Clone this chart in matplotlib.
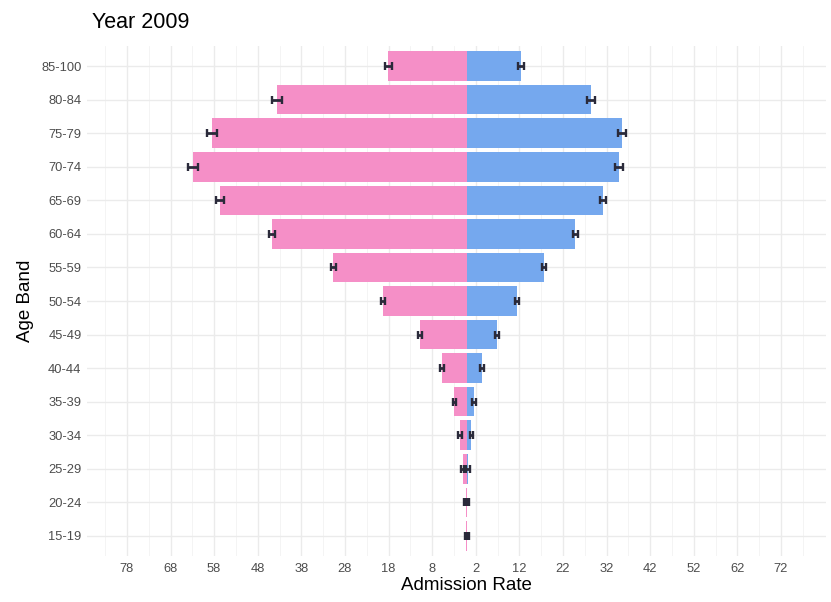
import matplotlib
matplotlib.use("Agg")
import matplotlib.pyplot as plt
import numpy as np

plt.rcParams['font.family'] = ['Liberation Sans', 'DejaVu Sans']

age_bands = ["15-19", "20-24", "25-29", "30-34", "35-39", "40-44", "45-49",
             "50-54", "55-59", "60-64", "65-69", "70-74", "75-79", "80-84", "85-100"]
female = [0.2, 0.3, 1.0, 1.6, 2.9, 5.7, 10.8, 19.3, 30.7, 44.7, 56.7, 62.8, 58.5, 43.6, 18.1]
male = [0.05, 0.1, 0.2, 1.0, 1.6, 3.4, 6.9, 11.5, 17.7, 24.8, 31.2, 34.9, 35.6, 28.4, 12.4]
female_err = [0.3, 0.3, 0.4, 0.4, 0.4, 0.4, 0.4, 0.5, 0.6, 0.7, 0.9, 1.1, 1.1, 1.1, 0.8]
male_err = [0.3, 0.3, 0.4, 0.4, 0.4, 0.4, 0.4, 0.5, 0.5, 0.6, 0.7, 0.9, 0.9, 0.9, 0.7]
x_ticks = list(range(-78, 73, 10))
x_tick_labels = [str(abs(t)) for t in x_ticks]
title = "Year 2009"

W, H = 831, 602
fig = plt.figure(figsize=(W / 100, H / 100), dpi=100)
left_px, right_px, top_px, bottom_px = 87, 826, 46, 556
ax = fig.add_axes([left_px / W, 1 - bottom_px / H, (right_px - left_px) / W, (bottom_px - top_px) / H])

y = np.arange(len(age_bands))
pink = '#F58FC7'
blue = '#75A8EE'
ax.barh(y, [-v for v in female], height=0.88, color=pink, zorder=2)
ax.barh(y, male, height=0.88, color=blue, zorder=2)

ecol = '#2a2a3a'
ax.errorbar([-v for v in female], y, xerr=female_err, fmt='none', ecolor=ecol,
            elinewidth=2.0, capsize=2.6, capthick=1.7, zorder=3)
ax.errorbar(male, y, xerr=male_err, fmt='none', ecolor=ecol,
            elinewidth=2.0, capsize=2.6, capthick=1.7, zorder=3)

zero_px = 467
scale = 4.36
ax.set_xlim((left_px - zero_px) / scale, (right_px - zero_px) / scale)
ax.set_ylim(-0.6, len(age_bands) - 1 + 0.6)

ax.set_xticks(x_ticks)
ax.set_xticklabels(x_tick_labels)
ax.set_xticks([t + 5 for t in x_ticks] + [x_ticks[0] - 5], minor=True)
ax.set_yticks(y)
ax.set_yticklabels(age_bands)

ax.grid(True, which='major', color='#EBEBEB', linewidth=1.0, zorder=0)
ax.grid(True, which='minor', axis='x', color='#F3F3F3', linewidth=0.6, zorder=0)
ax.set_axisbelow(True)
for s in ax.spines.values():
    s.set_visible(False)
ax.tick_params(axis='both', which='both', length=0, labelsize=9.3, colors='#4D4D4D')
ax.tick_params(axis='x', pad=5)
ax.tick_params(axis='y', pad=4)

ax.set_xlabel("Admission Rate", fontsize=13.5, color='black')
ax.set_ylabel("Age Band", fontsize=13.5, color='black')
ax.xaxis.set_label_coords((466 - left_px) / (right_px - left_px), -(586 - bottom_px) / (bottom_px - top_px))
ax.xaxis.label.set_va('center')
ax.yaxis.set_label_coords(-(left_px - 26) / (right_px - left_px), 0.5)
ax.yaxis.label.set_va('center')
fig.text(92 / W, 1 - 22 / H, title, fontsize=15.5, ha='left', va='center', color='black')

fig.savefig("out.png", dpi=100, facecolor='white')
